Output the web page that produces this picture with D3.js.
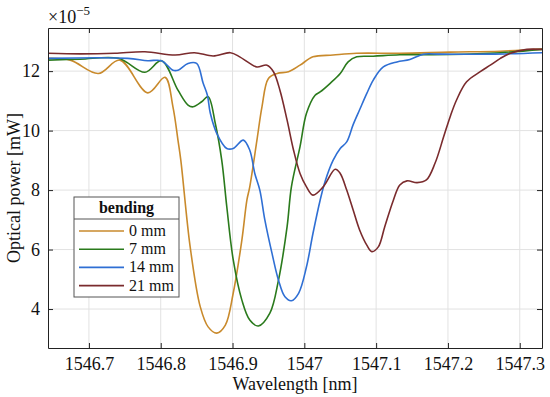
<!DOCTYPE html>
<html>
<head>
<meta charset="utf-8">
<script src="https://cdn.jsdelivr.net/npm/d3@7"></script>
<style>
  body { margin: 0; background: #fff; }
  svg text { font-family: "Liberation Serif", "Times New Roman", serif; }
</style>
</head>
<body>
<svg width="550" height="397"></svg>
<script>
// Tick values and labels
const xTicks = [1546.7, 1546.8, 1546.9, 1547.0, 1547.1, 1547.2, 1547.3];
const xTickLabels = ["1546.7", "1546.8", "1546.9", "1547", "1547.1", "1547.2", "1547.3"];
const yTicks = [4, 6, 8, 10, 12];
const yTickLabels = ["4", "6", "8", "10", "12"];

// Series: [wavelength nm, power x1e-5 mW]
const bend0 = [
  [1546.643, 12.43], [1546.674, 12.37], [1546.713, 11.92], [1546.743, 12.37],
  [1546.782, 11.27], [1546.806, 11.79], [1546.817, 10.80], [1546.824, 9.68],
  [1546.828, 9.00], [1546.841, 6.09], [1546.855, 4.08], [1546.866, 3.40],
  [1546.878, 3.19], [1546.890, 3.46], [1546.901, 4.54], [1546.913, 6.32],
  [1546.920, 7.66], [1546.924, 8.11], [1546.934, 9.68], [1546.941, 10.80],
  [1546.950, 11.75], [1546.962, 11.92], [1546.978, 11.98], [1546.994, 12.20],
  [1547.012, 12.48], [1547.040, 12.54], [1547.073, 12.60], [1547.133, 12.60],
  [1547.203, 12.64], [1547.273, 12.67], [1547.331, 12.74]
];
const bend7 = [
  [1546.643, 12.37], [1546.688, 12.40], [1546.741, 12.43], [1546.778, 11.96],
  [1546.801, 12.35], [1546.824, 11.36], [1546.838, 10.86], [1546.845, 10.80],
  [1546.857, 10.97], [1546.866, 11.14], [1546.876, 10.24], [1546.885, 9.00],
  [1546.892, 7.44], [1546.901, 5.65], [1546.913, 4.30], [1546.924, 3.63],
  [1546.936, 3.43], [1546.952, 3.86], [1546.964, 4.97], [1546.976, 6.77],
  [1546.982, 8.11], [1546.994, 9.46], [1547.003, 10.58], [1547.015, 11.19],
  [1547.022, 11.30], [1547.036, 11.59], [1547.050, 11.92], [1547.061, 12.31],
  [1547.073, 12.48], [1547.096, 12.50], [1547.133, 12.55], [1547.203, 12.56],
  [1547.273, 12.62], [1547.331, 12.73]
];
const bend14 = [
  [1546.643, 12.43], [1546.754, 12.43], [1546.782, 12.35], [1546.801, 12.35],
  [1546.817, 12.03], [1546.824, 12.03], [1546.838, 12.26], [1546.850, 12.26],
  [1546.859, 11.60], [1546.865, 11.19], [1546.869, 10.59], [1546.878, 9.91],
  [1546.892, 9.40], [1546.901, 9.40], [1546.915, 9.68], [1546.924, 9.34],
  [1546.931, 8.56], [1546.938, 8.00], [1546.945, 7.00], [1546.955, 5.87],
  [1546.964, 4.97], [1546.973, 4.41], [1546.982, 4.28], [1546.992, 4.53],
  [1547.003, 5.42], [1547.012, 6.54], [1547.022, 7.66], [1547.029, 8.30],
  [1547.040, 9.00], [1547.050, 9.40], [1547.059, 9.62], [1547.068, 10.20],
  [1547.077, 10.70], [1547.087, 11.25], [1547.096, 11.70], [1547.110, 12.14],
  [1547.129, 12.31], [1547.147, 12.39], [1547.166, 12.57], [1547.189, 12.57],
  [1547.259, 12.57], [1547.331, 12.62]
];
const bend21 = [
  [1546.643, 12.60], [1546.688, 12.58], [1546.736, 12.60], [1546.778, 12.65],
  [1546.820, 12.54], [1546.847, 12.62], [1546.873, 12.51], [1546.897, 12.62],
  [1546.910, 12.48], [1546.924, 12.26], [1546.934, 12.14], [1546.948, 12.20],
  [1546.957, 11.98], [1546.966, 11.36], [1546.976, 10.35], [1546.985, 9.34],
  [1546.994, 8.56], [1547.003, 8.11], [1547.012, 7.83], [1547.026, 8.10],
  [1547.043, 8.70], [1547.050, 8.56], [1547.059, 8.00], [1547.068, 7.33],
  [1547.077, 6.66], [1547.087, 6.15], [1547.094, 5.93], [1547.103, 6.09],
  [1547.112, 6.77], [1547.124, 7.66], [1547.133, 8.17], [1547.143, 8.31],
  [1547.157, 8.25], [1547.170, 8.34], [1547.182, 8.90], [1547.194, 9.79],
  [1547.203, 10.46], [1547.212, 11.03], [1547.226, 11.64], [1547.245, 11.98],
  [1547.259, 12.20], [1547.273, 12.43], [1547.287, 12.60], [1547.310, 12.73],
  [1547.331, 12.73]
];

const seriesNames = ["0 mm", "7 mm", "14 mm", "21 mm"];
const seriesData = [bend0, bend7, bend14, bend21];
const colors = ["#c98a2c", "#2a7a1c", "#2f6fd4", "#7a2b2d"];

// Layout
const plotLeft = 48, plotRight = 542, plotTop = 28, plotBottom = 348;

const svg = d3.select("svg");

const x = d3.scaleLinear().domain([1546.643, 1547.331]).range([plotLeft, plotRight]);
const y = d3.scaleLinear().domain([2.69, 13.45]).range([plotBottom, plotTop]);

// grid
svg.append("g")
  .selectAll("line.vg")
  .data(xTicks)
  .enter().append("line")
  .attr("x1", d => x(d)).attr("x2", d => x(d))
  .attr("y1", plotTop).attr("y2", plotBottom)
  .attr("stroke", "#e2e2e2").attr("stroke-width", 1);

svg.append("g")
  .selectAll("line.hg")
  .data(yTicks)
  .enter().append("line")
  .attr("x1", plotLeft).attr("x2", plotRight)
  .attr("y1", d => y(d)).attr("y2", d => y(d))
  .attr("stroke", "#e2e2e2").attr("stroke-width", 1);

// curves
const line = d3.line()
  .x(d => x(d[0]))
  .y(d => y(d[1]))
  .curve(d3.curveCatmullRom.alpha(0.5));

svg.append("defs").append("clipPath").attr("id", "plotclip")
  .append("rect").attr("x", plotLeft).attr("y", plotTop)
  .attr("width", plotRight - plotLeft).attr("height", plotBottom - plotTop);

svg.append("g")
  .attr("clip-path", "url(#plotclip)")
  .selectAll("path")
  .data(seriesData)
  .enter().append("path")
  .attr("d", line)
  .attr("fill", "none")
  .attr("stroke", (d, i) => colors[i])
  .attr("stroke-width", 1.6);

// axes (ticks pointing inward on all sides)
const styleAxis = g => {
  g.select(".domain").attr("stroke", "#222");
  g.selectAll(".tick line").attr("stroke", "#222");
  g.selectAll(".tick text").attr("fill", "#111").style("font-size", "18px")
    .style("font-family", "'Liberation Serif', serif");
};

svg.append("g")
  .attr("transform", "translate(0," + plotBottom + ")")
  .call(d3.axisBottom(x).tickValues(xTicks).tickSizeInner(-5).tickSizeOuter(0)
    .tickPadding(9).tickFormat((d, i) => xTickLabels[i]))
  .call(styleAxis);

svg.append("g")
  .attr("transform", "translate(0," + plotTop + ")")
  .call(d3.axisTop(x).tickValues(xTicks).tickSizeInner(-5).tickSizeOuter(0).tickFormat(""))
  .call(styleAxis);

svg.append("g")
  .attr("transform", "translate(" + plotLeft + ",0)")
  .call(d3.axisLeft(y).tickValues(yTicks).tickSizeInner(-5).tickSizeOuter(0)
    .tickPadding(8).tickFormat((d, i) => yTickLabels[i]))
  .call(styleAxis);

svg.append("g")
  .attr("transform", "translate(" + plotRight + ",0)")
  .call(d3.axisRight(y).tickValues(yTicks).tickSizeInner(-5).tickSizeOuter(0).tickFormat(""))
  .call(styleAxis);

// exponent label
const expo = svg.append("text")
  .attr("x", plotLeft).attr("y", 23)
  .style("font-size", "18px").attr("fill", "#111");
expo.append("tspan").text("\u00d710");
expo.append("tspan").attr("dy", -8).style("font-size", "13px").text("\u22125");

// axis titles
svg.append("text")
  .attr("x", (plotLeft + plotRight) / 2).attr("y", 390)
  .attr("text-anchor", "middle")
  .style("font-size", "18px").attr("fill", "#111")
  .text("Wavelength [nm]");

svg.append("text")
  .attr("transform", "translate(20," + ((plotTop + plotBottom) / 2) + ") rotate(-90)")
  .attr("text-anchor", "middle")
  .style("font-size", "18px").attr("fill", "#111")
  .text("Optical power [mW]");

// legend
const legend = svg.append("g").attr("transform", "translate(74,197)");
legend.append("rect")
  .attr("width", 105).attr("height", 100)
  .attr("fill", "#fff").attr("stroke", "#555").attr("stroke-width", 1);
legend.append("line")
  .attr("x1", 0).attr("x2", 105).attr("y1", 22).attr("y2", 22)
  .attr("stroke", "#555").attr("stroke-width", 1);
legend.append("text")
  .attr("x", 52.5).attr("y", 16)
  .attr("text-anchor", "middle")
  .style("font-size", "16px").style("font-weight", "bold").attr("fill", "#111")
  .text("bending");

const entry = legend.selectAll(".entry")
  .data(seriesNames)
  .enter().append("g")
  .attr("class", "entry")
  .attr("transform", (d, i) => "translate(0," + (34 + i * 18.2) + ")");
entry.append("line")
  .attr("x1", 5).attr("x2", 50)
  .attr("stroke", (d, i) => colors[i]).attr("stroke-width", 1.6);
entry.append("text")
  .attr("x", 55).attr("y", 5)
  .style("font-size", "16px").attr("fill", "#111")
  .text(d => d);
</script>
</body>
</html>
